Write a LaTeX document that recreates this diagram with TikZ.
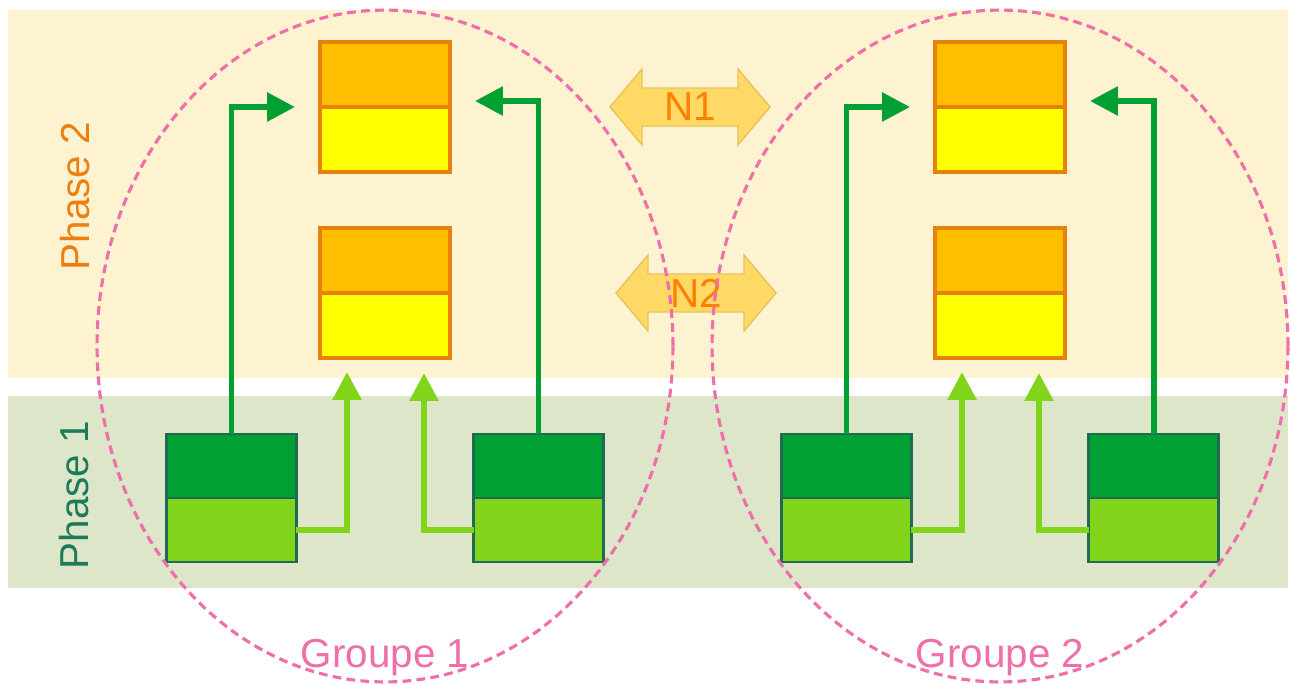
\documentclass[tikz,border=0pt]{standalone}
\usepackage{fontspec}
\setmainfont{Liberation Sans}
\usetikzlibrary{positioning,arrows.meta}

\definecolor{fondP2}{HTML}{FDF3D0}
\definecolor{fondP1}{HTML}{DDE6C9}
\definecolor{orangeF}{HTML}{FFBF00}
\definecolor{jauneF}{HTML}{FFFF00}
\definecolor{bordO}{HTML}{E8800E}
\definecolor{vertF}{HTML}{00A033}
\definecolor{vertC}{HTML}{81D41A}
\definecolor{bordV}{HTML}{1E6A55}
\definecolor{roseG}{HTML}{EE6FAA}
\definecolor{fondN}{HTML}{FFD966}
\definecolor{bordN}{HTML}{E9C35A}
\definecolor{texteO}{HTML}{EC7F12}
\definecolor{texteN}{HTML}{FF8000}
\definecolor{texteV}{HTML}{1F7A5C}

\begin{document}
\begin{tikzpicture}[x=0.02cm, y=-0.02cm,
	demi/.style={draw, minimum width=2.6cm, minimum height=1.3cm, inner sep=0pt, outer sep=0pt},
	tampon/.style={demi, draw=bordO, line width=2pt},
	calcul/.style={demi, draw=bordV, line width=1.5pt, minimum height=1.28cm},
	fleche/.style={line width=3.4pt, -{Triangle[length=0.56cm, width=0.56cm]}},
	reseau/.style={fill=fondN, draw=bordN, line width=0.8pt},
	groupe/.style={draw=roseG, line width=1.8pt, dash pattern=on 5pt off 3pt},
	etiquette/.style={inner sep=0pt, font=\fontsize{23}{27}\selectfont}]

	\useasboundingbox (0,0) rectangle (1291,684);

	% phases
	\fill[fondP2] (8,10) rectangle (1288,378);
	\fill[fondP1] (8,396) rectangle (1288,588);
	\node[etiquette, texteO, rotate=90, anchor=base] (ph2) at (89,196) {Phase 2};
	\node[etiquette, texteV, rotate=90, anchor=base] (ph1) at (88,495) {Phase 1};

	% reseau
	\foreach \nom/\cx/\cy in {N1/690/107, N2/696/293} {
		\filldraw[reseau] (\cx,\cy) ++(-80,0) -- ++(32,-38) -- ++(0,19)
			-- ++(96,0) -- ++(0,-19) -- ++(32,38) -- ++(-32,38)
			-- ++(0,-19) -- ++(-96,0) -- ++(0,19) -- cycle;
		\node[etiquette, texteN] (\nom) at (\cx,\cy) {\nom};
	}

	% groupes
	\foreach \g/\gx in {1/0, 2/615} {
		% tampons
		\node[tampon, fill=orangeF] (t1h-\g) at (385+\gx,74.5) {};
		\node[tampon, fill=jauneF, below=0pt of t1h-\g] (t1b-\g) {};
		\node[tampon, fill=orangeF] (t2h-\g) at (385+\gx,260.5) {};
		\node[tampon, fill=jauneF, below=0pt of t2h-\g] (t2b-\g) {};

		% calculs
		\node[calcul, fill=vertF] (cgh-\g) at (231.5+\gx,466) {};
		\node[calcul, fill=vertC, below=0pt of cgh-\g] (cgb-\g) {};
		\node[calcul, fill=vertF] (cdh-\g) at (538.5+\gx,466) {};
		\node[calcul, fill=vertC, below=0pt of cdh-\g] (cdb-\g) {};

		% fleches
		\draw[fleche, vertF] (cgh-\g.north) |- ([xshift=-0.5cm]t1b-\g.north west);
		\draw[fleche, vertF] (cdh-\g.north) |- ([xshift=0.5cm, yshift=0.12cm]t1b-\g.north east);
		\draw[fleche, vertC] (cgb-\g.east) -| ([xshift=-0.76cm, yshift=-0.28cm]t2b-\g.south);
		\draw[fleche, vertC] (cdb-\g.west) -| ([xshift=0.78cm, yshift=-0.3cm]t2b-\g.south);

		% ellipse
		\draw[groupe] (385+\gx,346) ellipse [x radius=5.76cm, y radius=6.72cm];
		\node[etiquette, roseG, anchor=base] (gr-\g) at (385+\gx,667) {Groupe \g};
	}

\end{tikzpicture}
\end{document}
